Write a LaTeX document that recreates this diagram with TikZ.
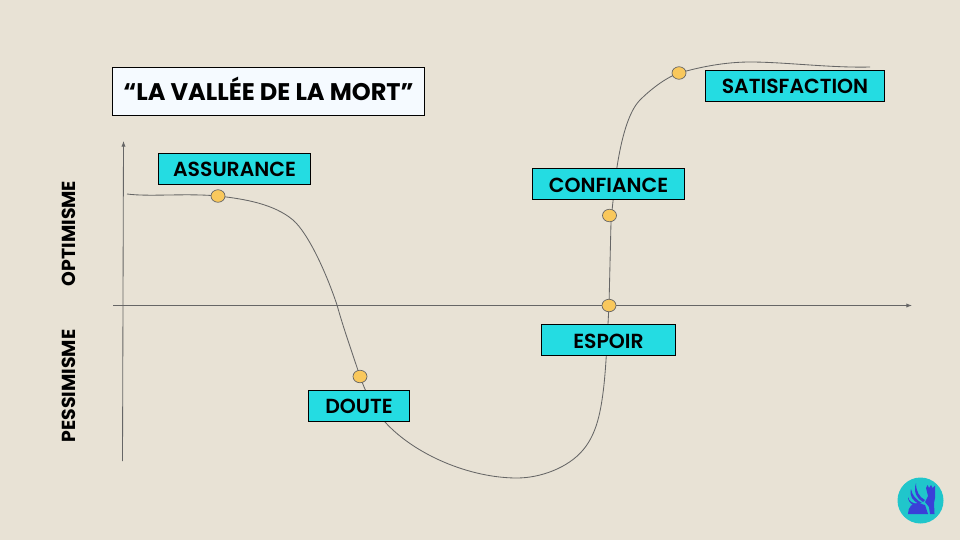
\documentclass[tikz,border=0pt]{standalone}
\usepackage{fontspec}
\setmainfont{Poppins}
\newfontfamily\tagfont{Poppins SemiBold}
\usetikzlibrary{shapes.geometric, arrows.meta, backgrounds}
\definecolor{sandbg}{HTML}{E8E2D5}
\definecolor{tagcyan}{HTML}{24DCE2}
\definecolor{dotyellow}{HTML}{F9C85C}
\definecolor{linegray}{HTML}{666666}
\definecolor{titlewhite}{HTML}{F5FAFF}
\definecolor{griffinblue}{HTML}{3A40D8}
\tikzset{
    tagbox/.style={draw=black, fill=tagcyan, line width=0.6pt, inner sep=0pt, text height=11.5pt, text depth=0pt, font=\fontsize{14.5}{16}\selectfont\tagfont},
    stagedot/.style={ellipse, draw=linegray, fill=dotyellow, line width=0.5pt, inner sep=0pt, minimum width=14\pxu, minimum height=12.5\pxu},
    axisline/.style={draw=linegray, line width=0.6pt, -{Latex[length=4pt, width=3pt]}},
    sidelabel/.style={rotate=90, font=\fontsize{13.4}{15}\selectfont\bfseries},
}
\newcommand{\pxu}{*0.025cm}
\begin{document}
\begin{tikzpicture}[x=0.025cm, y=-0.025cm]
        \useasboundingbox (0,0) rectangle (960,540);
        % stages on the curve
        \node[stagedot] (dotassurance) at (218,196) {};
        \node[stagedot] (dotdoute) at (360,376.5) {};
        \node[stagedot] (dotespoir) at (609,305.5) {};
        \node[stagedot] (dotconfiance) at (609.5,215.5) {};
        \node[stagedot] (dotsatisfaction) at (679,73) {};
        %
        \node[tagbox, minimum width=152\pxu, minimum height=31\pxu] (assurance) at (234.5,168.5) {ASSURANCE};
        \node[tagbox, minimum width=101\pxu, minimum height=31\pxu] (doute) at (359,405.5) {DOUTE};
        \node[tagbox, minimum width=134\pxu, minimum height=31\pxu] (espoir) at (608.5,340) {ESPOIR};
        \node[tagbox, minimum width=152\pxu, minimum height=31\pxu] (confiance) at (608.5,184) {CONFIANCE};
        \node[tagbox, minimum width=179\pxu, minimum height=31\pxu] (satisfaction) at (795,85.5) {SATISFACTION};
        \node[draw=black, fill=titlewhite, line width=0.6pt, inner sep=0pt, minimum width=312\pxu, minimum height=48\pxu, text height=13pt, text depth=0pt, font=\fontsize{17.1}{19}\selectfont\bfseries] (title) at (268.5,91.5) {“LA VALLÉE DE LA MORT”};
        %
        \node[sidelabel] (optimisme) at (68.5,233.5) {OPTIMISME};
        \node[sidelabel] (pessimisme) at (68.5,386) {PESSIMISME};
        %
        \coordinate (axisbottom) at (122.5,461);
        \coordinate (axistop) at (123.5,141);
        \coordinate (axisleft) at (113,305.5);
        \coordinate (axisright) at (912,305.5);
        \coordinate (curvestart) at (127,194);
        \coordinate (curveend) at (870,67);
        \begin{scope}[on background layer]
        \fill[sandbg] (0,0) rectangle (960,540);
        \draw[axisline] (axisbottom) -- (axistop);
        \draw[axisline] (axisleft) -- (axisright);
        \draw[draw=linegray, line width=0.6pt] (curvestart) .. controls (150,197) and (185,193) .. (dotassurance.center)
            .. controls (245,199) and (274,204) .. (293,220)
            .. controls (308,233) and (326,272) .. (337,305)
            .. controls (344,330) and (352,352) .. (dotdoute.center)
            .. controls (367,396) and (375,410) .. (385,422)
            .. controls (415,455) and (470,478) .. (517,478)
            .. controls (540,478) and (568,468) .. (583,450)
            .. controls (594,437) and (599,420) .. (602,400)
            .. controls (606,375) and (607,340) .. (dotespoir.center)
            -- (611,222)
            .. controls (612.5,203) and (615,185) .. (617,167)
            .. controls (621,141) and (628,112) .. (640,100)
            .. controls (650,90) and (665,78) .. (dotsatisfaction.center)
            .. controls (700,67) and (725,62) .. (750,62)
            .. controls (785,62) and (830,68) .. (curveend);
        \end{scope}
        % logo
        \fill[tagcyan!90!black] (920.5,500.5) circle (23);
        \fill[griffinblue] (908,514) .. controls (908,507) and (912,503) .. (918,503) -- (925,505) -- (928,514) -- cycle;
        \fill[griffinblue] (926,488) -- (927.5,485) -- (929,488) -- (931,485) -- (932.5,488) -- (935,485.5) -- (935,498) -- (934,503) -- (934.5,514) -- (930,514) -- (929,507) -- (925,502) -- (928,496) -- cycle;
        \fill[griffinblue] (916,483) .. controls (916,491) and (919,497) .. (925,500) -- (923,502) .. controls (917,499) and (913,492) .. cycle;
        \fill[griffinblue] (911,489) .. controls (912,495) and (916,500) .. (922,503) -- (919,504) .. controls (913,501) and (909,496) .. cycle;
        \fill[griffinblue] (908,497) .. controls (909,501) and (912,503) .. (917,504) -- (913,505) .. controls (910,503) and (908,501) .. cycle;
    \end{tikzpicture}
\end{document}
